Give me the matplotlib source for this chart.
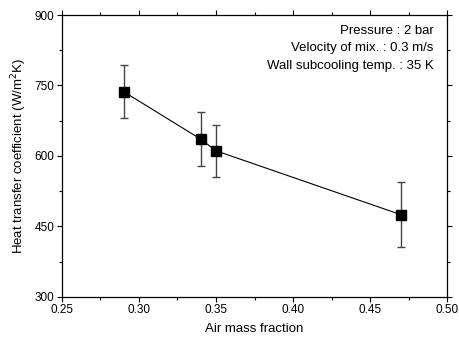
import numpy as np
import matplotlib
matplotlib.use("Agg")
import matplotlib.pyplot as plt
from matplotlib.ticker import MultipleLocator

# data
air_frac = [0.29, 0.34, 0.35, 0.47]
htc = [737, 636, 611, 475]
htc_err = [57, 57, 55, 69]

xticks = [0.25, 0.30, 0.35, 0.40, 0.45, 0.50]
yticks = [300, 450, 600, 750, 900]
notes = ["Pressure : 2 bar", "Velocity of mix. : 0.3 m/s", "Wall subcooling temp. : 35 K"]

plt.rcParams['font.family'] = ['Liberation Sans', 'DejaVu Sans']

fig = plt.figure(figsize=(4.59, 3.42), dpi=100)
ax = fig.add_axes([0.135, 0.132, 0.839, 0.824])

ax.errorbar(air_frac, htc, yerr=htc_err, fmt='none', ecolor='#444444',
            elinewidth=1.0, capsize=3, capthick=1.0, zorder=2)
ax.plot(air_frac, htc, color='black', lw=0.8, marker='s', ms=6.5,
        mfc='black', mec='black', zorder=3)

ax.set_xlim(0.25, 0.50)
ax.set_ylim(300, 900)
ax.set_xticks(xticks)
ax.set_yticks(yticks)
ax.set_xticklabels(["%.2f" % t for t in xticks])
ax.xaxis.set_minor_locator(MultipleLocator(0.025))
ax.yaxis.set_minor_locator(MultipleLocator(75))
ax.tick_params(which='both', direction='out', top=True, right=True,
               labelsize=8.5, width=0.8, pad=2)
ax.tick_params(which='major', length=3.5)
ax.tick_params(which='minor', length=2)
for s in ax.spines.values():
    s.set_linewidth(0.9)

ax.set_xlabel("Air mass fraction", fontsize=9.5, labelpad=5)
ax.set_ylabel("Heat transfer coefficient (W/m$^2$K)", fontsize=9.5, labelpad=4)

for i, t in enumerate(notes):
    ax.text(0.965, 0.945 - i * 0.0625, t, transform=ax.transAxes,
            ha='right', va='center', fontsize=9.5)

fig.savefig("out.png", dpi=100)
